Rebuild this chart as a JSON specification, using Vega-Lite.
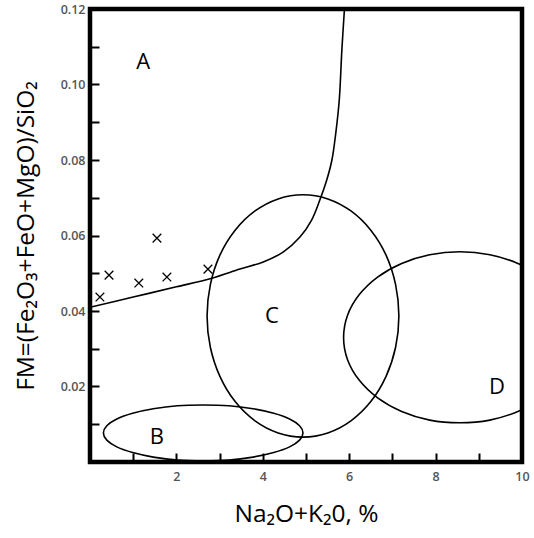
{
  "$schema": "https://vega.github.io/schema/vega-lite/v6.json",
  "width": 432,
  "height": 453,
  "autosize": {"type": "none"},
  "padding": {"left": 90, "top": 9, "right": 12, "bottom": 76},
  "background": "white",
  "config": {
    "view": {"stroke": "black", "strokeWidth": 4.5},
    "axis": {
      "domain": false,
      "grid": false,
      "labelColor": "#555555",
      "labelFont": "Open Sans",
      "labelFontSize": 12.5,
      "labelFontWeight": 600,
      "labelFlush": false,
      "labelOverlap": false,
      "titleFont": "Open Sans",
      "titleFontWeight": "normal",
      "titleColor": "black"
    }
  },
  "datasets": {
    "curve": [
      {"i": 0, "x": 0, "y": 0.041},
      {"i": 1, "x": 1, "y": 0.0437},
      {"i": 2, "x": 2, "y": 0.0464},
      {"i": 3, "x": 2.82, "y": 0.0487},
      {"i": 4, "x": 3.47, "y": 0.0511},
      {"i": 5, "x": 4.01, "y": 0.053},
      {"i": 6, "x": 4.47, "y": 0.0556},
      {"i": 7, "x": 4.86, "y": 0.0596},
      {"i": 8, "x": 5.13, "y": 0.0641},
      {"i": 9, "x": 5.32, "y": 0.0694},
      {"i": 10, "x": 5.48, "y": 0.0747},
      {"i": 11, "x": 5.6, "y": 0.08},
      {"i": 12, "x": 5.69, "y": 0.0872},
      {"i": 13, "x": 5.77, "y": 0.0959},
      {"i": 14, "x": 5.83, "y": 0.1091},
      {"i": 15, "x": 5.89, "y": 0.12}
    ],
    "ellipses": [
      {"shape": "C", "i": 0, "x": 7.15, "y": 0.0387},
      {"shape": "C", "i": 1, "x": 7.074, "y": 0.047},
      {"shape": "C", "i": 2, "x": 6.853, "y": 0.0548},
      {"shape": "C", "i": 3, "x": 6.5, "y": 0.0614},
      {"shape": "C", "i": 4, "x": 6.04, "y": 0.0665},
      {"shape": "C", "i": 5, "x": 5.505, "y": 0.0697},
      {"shape": "C", "i": 6, "x": 4.93, "y": 0.0708},
      {"shape": "C", "i": 7, "x": 4.355, "y": 0.0697},
      {"shape": "C", "i": 8, "x": 3.82, "y": 0.0665},
      {"shape": "C", "i": 9, "x": 3.36, "y": 0.0614},
      {"shape": "C", "i": 10, "x": 3.007, "y": 0.0548},
      {"shape": "C", "i": 11, "x": 2.786, "y": 0.047},
      {"shape": "C", "i": 12, "x": 2.71, "y": 0.0387},
      {"shape": "C", "i": 13, "x": 2.786, "y": 0.0304},
      {"shape": "C", "i": 14, "x": 3.007, "y": 0.0227},
      {"shape": "C", "i": 15, "x": 3.36, "y": 0.016},
      {"shape": "C", "i": 16, "x": 3.82, "y": 0.0109},
      {"shape": "C", "i": 17, "x": 4.355, "y": 0.0077},
      {"shape": "C", "i": 18, "x": 4.93, "y": 0.0066},
      {"shape": "C", "i": 19, "x": 5.505, "y": 0.0077},
      {"shape": "C", "i": 20, "x": 6.04, "y": 0.0109},
      {"shape": "C", "i": 21, "x": 6.5, "y": 0.016},
      {"shape": "C", "i": 22, "x": 6.853, "y": 0.0227},
      {"shape": "C", "i": 23, "x": 7.074, "y": 0.0304},
      {"shape": "D", "i": 0, "x": 11.25, "y": 0.033},
      {"shape": "D", "i": 1, "x": 11.158, "y": 0.0389},
      {"shape": "D", "i": 2, "x": 10.89, "y": 0.0443},
      {"shape": "D", "i": 3, "x": 10.462, "y": 0.049},
      {"shape": "D", "i": 4, "x": 9.905, "y": 0.0526},
      {"shape": "D", "i": 5, "x": 9.256, "y": 0.0549},
      {"shape": "D", "i": 6, "x": 8.56, "y": 0.0557},
      {"shape": "D", "i": 7, "x": 7.864, "y": 0.0549},
      {"shape": "D", "i": 8, "x": 7.215, "y": 0.0526},
      {"shape": "D", "i": 9, "x": 6.658, "y": 0.049},
      {"shape": "D", "i": 10, "x": 6.23, "y": 0.0443},
      {"shape": "D", "i": 11, "x": 5.962, "y": 0.0389},
      {"shape": "D", "i": 12, "x": 5.87, "y": 0.033},
      {"shape": "D", "i": 13, "x": 5.962, "y": 0.0271},
      {"shape": "D", "i": 14, "x": 6.23, "y": 0.0217},
      {"shape": "D", "i": 15, "x": 6.658, "y": 0.017},
      {"shape": "D", "i": 16, "x": 7.215, "y": 0.0134},
      {"shape": "D", "i": 17, "x": 7.864, "y": 0.0111},
      {"shape": "D", "i": 18, "x": 8.56, "y": 0.0104},
      {"shape": "D", "i": 19, "x": 9.256, "y": 0.0111},
      {"shape": "D", "i": 20, "x": 9.905, "y": 0.0134},
      {"shape": "D", "i": 21, "x": 10.462, "y": 0.017},
      {"shape": "D", "i": 22, "x": 10.89, "y": 0.0217},
      {"shape": "D", "i": 23, "x": 11.158, "y": 0.0271},
      {"shape": "B", "i": 0, "x": 4.93, "y": 0.0077},
      {"shape": "B", "i": 1, "x": 4.851, "y": 0.0096},
      {"shape": "B", "i": 2, "x": 4.62, "y": 0.0114},
      {"shape": "B", "i": 3, "x": 4.253, "y": 0.0129},
      {"shape": "B", "i": 4, "x": 3.775, "y": 0.0141},
      {"shape": "B", "i": 5, "x": 3.218, "y": 0.0149},
      {"shape": "B", "i": 6, "x": 2.62, "y": 0.0151},
      {"shape": "B", "i": 7, "x": 2.022, "y": 0.0149},
      {"shape": "B", "i": 8, "x": 1.465, "y": 0.0141},
      {"shape": "B", "i": 9, "x": 0.987, "y": 0.0129},
      {"shape": "B", "i": 10, "x": 0.62, "y": 0.0114},
      {"shape": "B", "i": 11, "x": 0.389, "y": 0.0096},
      {"shape": "B", "i": 12, "x": 0.31, "y": 0.0077},
      {"shape": "B", "i": 13, "x": 0.389, "y": 0.0058},
      {"shape": "B", "i": 14, "x": 0.62, "y": 0.004},
      {"shape": "B", "i": 15, "x": 0.987, "y": 0.0025},
      {"shape": "B", "i": 16, "x": 1.465, "y": 0.0013},
      {"shape": "B", "i": 17, "x": 2.022, "y": 0.0005},
      {"shape": "B", "i": 18, "x": 2.62, "y": 0.0003},
      {"shape": "B", "i": 19, "x": 3.218, "y": 0.0005},
      {"shape": "B", "i": 20, "x": 3.775, "y": 0.0013},
      {"shape": "B", "i": 21, "x": 4.253, "y": 0.0025},
      {"shape": "B", "i": 22, "x": 4.62, "y": 0.004},
      {"shape": "B", "i": 23, "x": 4.851, "y": 0.0058}
    ],
    "points": [
      {"x": 0.23, "y": 0.0437},
      {"x": 0.44, "y": 0.0495},
      {"x": 1.13, "y": 0.0474},
      {"x": 1.55, "y": 0.0593},
      {"x": 1.78, "y": 0.049},
      {"x": 2.73, "y": 0.0511}
    ],
    "labels": [
      {"x": 1.23, "y": 0.106, "text": "A"},
      {"x": 1.55, "y": 0.0066, "text": "B"},
      {"x": 4.21, "y": 0.0387, "text": "C"},
      {"x": 9.42, "y": 0.0199, "text": "D"}
    ]
  },
  "layer": [
    {
      "data": {"name": "curve"},
      "mark": {"type": "line", "color": "black", "strokeWidth": 1.6, "interpolate": "catmull-rom", "clip": true},
      "encoding": {
        "x": {
          "field": "x",
          "type": "quantitative",
          "scale": {"domain": [0, 10], "nice": false, "zero": false},
          "axis": {
            "values": [1, 2, 3, 4, 5, 6, 7, 8, 9, 10],
            "labelExpr": "datum.value % 2 === 0 ? datum.label : ''",
            "ticks": true,
            "tickColor": "black",
            "tickWidth": 2,
            "tickSize": 9,
            "tickOpacity": 1,
            "offset": -9,
            "zindex": 1,
            "labelPadding": 8,
            "title": "Na₂O+K₂0, %",
            "titleFontSize": 24.5,
            "titlePadding": 20
          }
        },
        "y": {
          "field": "y",
          "type": "quantitative",
          "scale": {"domain": [0, 0.12], "nice": false, "zero": false},
          "axis": {
            "values": [0.01, 0.02, 0.03, 0.04, 0.05, 0.06, 0.07, 0.08, 0.09, 0.1, 0.11, 0.12],
            "labelExpr": "round(datum.value * 100) % 2 === 0 ? format(datum.value, '.2f') : ''",
            "ticks": true,
            "tickColor": "black",
            "tickWidth": 2,
            "tickSize": 9,
            "tickOpacity": 1,
            "offset": -9,
            "zindex": 1,
            "labelPadding": 5,
            "title": "FM=(Fe₂O₃+FeO+MgO)/SiO₂",
            "titleFontSize": 24.5,
            "titlePadding": 22
          }
        },
        "order": {"field": "i", "type": "quantitative"}
      }
    },
    {
      "data": {"name": "ellipses"},
      "mark": {"type": "line", "color": "black", "strokeWidth": 1.6, "interpolate": "cardinal-closed", "clip": true},
      "encoding": {
        "x": {"field": "x", "type": "quantitative"},
        "y": {"field": "y", "type": "quantitative"},
        "detail": {"field": "shape", "type": "nominal"},
        "order": {"field": "i", "type": "quantitative"}
      }
    },
    {
      "data": {"name": "points"},
      "mark": {"type": "point", "shape": "M-1,-1L1,1M-1,1L1,-1", "filled": false, "stroke": "black", "strokeWidth": 1.3, "size": 75, "opacity": 1},
      "encoding": {
        "x": {"field": "x", "type": "quantitative"},
        "y": {"field": "y", "type": "quantitative"}
      }
    },
    {
      "data": {"name": "labels"},
      "mark": {"type": "text", "font": "Open Sans", "fontSize": 22, "color": "black", "align": "center", "baseline": "middle"},
      "encoding": {
        "x": {"field": "x", "type": "quantitative"},
        "y": {"field": "y", "type": "quantitative"},
        "text": {"field": "text", "type": "nominal"}
      }
    }
  ]
}
